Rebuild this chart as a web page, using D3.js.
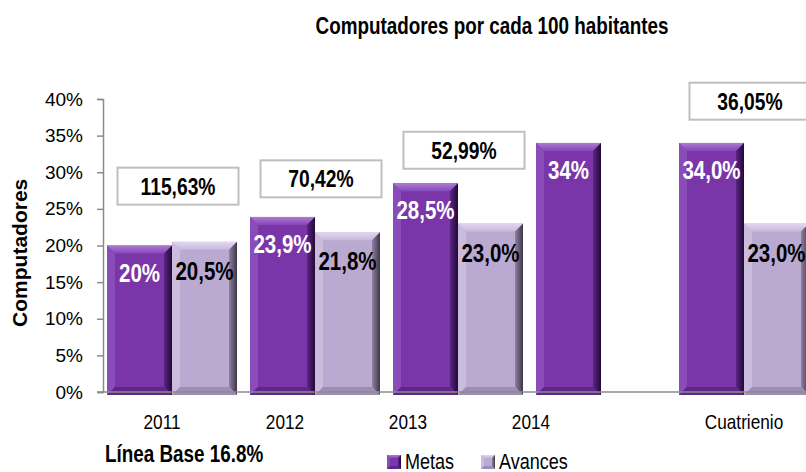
<!DOCTYPE html>
<html>
<head>
<meta charset="utf-8">
<script src="https://cdn.jsdelivr.net/npm/d3@7"></script>
<style>
  body { margin: 0; background: #fff; }
  svg { display: block; }
  text { font-family: "Liberation Sans", Arial, sans-serif; }
</style>
</head>
<body>
<script>
// data
var categories = ["2011", "2012", "2013", "2014", "Cuatrienio"];
var metas = [20, 23.9, 28.5, 34, 34.0];
var avances = [20.5, 21.8, 23.0, null, 23.0];
var metasLabels = ["20%", "23,9%", "28,5%", "34%", "34,0%"];
var avancesLabels = ["20,5%", "21,8%", "23,0%", null, "23,0%"];
var cumplimiento = ["115,63%", "70,42%", "52,99%", null, "36,05%"];
// height of the compliance boxes, read in axis units
var cumplimientoLevel = [28.1, 29.1, 33.0, null, 39.7];
var yTicks = [0, 5, 10, 15, 20, 25, 30, 35, 40];
var years = ["2011", "2012", "2013", "2014"];

var width = 806, height = 472;

var svg = d3.select("body").append("svg")
  .attr("width", width)
  .attr("height", height);

// narrow text (no Arial Narrow here, so squeeze Liberation Sans)
function narrow(g, x, y, str, size, bold, anchor) {
  return g.append("text")
    .attr("transform", "translate(" + x + "," + y + ")scale(0.82,1)")
    .attr("text-anchor", anchor || "middle")
    .style("font-size", size + "px")
    .style("font-weight", bold ? "bold" : "normal")
    .text(str);
}

// scales
var x = d3.scaleBand().domain(categories).range([100.5, 815.5]);
var y = d3.scaleLinear().domain([0, 40]).range([392, 99]);
var barW = 65;
var bev = 8;

// title
narrow(svg, 492, 34, "Computadores por cada 100 habitantes", 23, true);

// y axis
var yAxis = d3.axisLeft(y)
  .tickValues(yTicks)
  .tickFormat(function(d) { return d + "%"; })
  .tickSize(6)
  .tickPadding(14);

var gy = svg.append("g")
  .attr("transform", "translate(103,0)")
  .call(yAxis);
gy.select(".domain").attr("stroke", "#8c8c8c").attr("stroke-width", 1.5);
gy.selectAll(".tick line").attr("stroke", "#8c8c8c").attr("stroke-width", 1.5);
gy.selectAll(".tick text")
  .style("font-family", "'Liberation Sans', Arial, sans-serif")
  .style("font-size", "19px")
  .attr("fill", "#000");

// y axis title
svg.append("text")
  .attr("transform", "translate(27," + y(19) + ")rotate(-90)")
  .attr("text-anchor", "middle")
  .style("font-size", "21px")
  .style("font-weight", "bold")
  .text("Computadores");

// gradients for the bevelled bars
var defs = svg.append("defs");
function grad(id, c1, c2, horizontal) {
  var g = defs.append("linearGradient").attr("id", id);
  if (horizontal) g.attr("x1", 0).attr("y1", 0).attr("x2", 1).attr("y2", 0);
  else g.attr("x1", 0).attr("y1", 0).attr("x2", 0).attr("y2", 1);
  g.append("stop").attr("offset", "0%").attr("stop-color", c1);
  g.append("stop").attr("offset", "100%").attr("stop-color", c2);
}
grad("mRight", "#5b2486", "#220a35", true);
grad("aRight", "#8f82a3", "#3e3646", true);
grad("mTop", "#aa7dd3", "#8746b8", false);
grad("aTop", "#e1d8ee", "#c6b8dc", false);

var styles = {
  m: {main: "#7a36a8", top: "url(#mTop)", left: "#8a4cb8", right: "url(#mRight)", bottom: "#5e2787"},
  a: {main: "#baaad1", top: "url(#aTop)", left: "#c9bcdc", right: "url(#aRight)", bottom: "#9d8db6"}
};

function bevelBar(g, x0, y0, w, y1, s, bb) {
  var x1 = x0 + w;
  var b = Math.min(bb, (y1 - y0) / 2);
  g.append("rect").attr("x", x0).attr("y", y0).attr("width", w).attr("height", y1 - y0).attr("fill", s.main);
  g.append("polygon").attr("fill", s.top)
    .attr("points", [[x0, y0], [x1, y0], [x1 - b, y0 + b], [x0 + b, y0 + b]].join(" "));
  g.append("polygon").attr("fill", s.left)
    .attr("points", [[x0, y0], [x0 + b, y0 + b], [x0 + b, y1 - b], [x0, y1]].join(" "));
  g.append("polygon").attr("fill", s.right)
    .attr("points", [[x1, y0], [x1, y1], [x1 - b, y1 - b], [x1 - b, y0 + b]].join(" "));
  g.append("polygon").attr("fill", s.bottom)
    .attr("points", [[x0, y1], [x0 + b, y1 - b], [x1 - b, y1 - b], [x1, y1]].join(" "));
}

function center(c) { return x(c) + x.bandwidth() / 2; }

var bars = svg.append("g").attr("class", "bars");
categories.forEach(function(c, i) {
  var cx = center(c);
  bevelBar(bars, cx - barW, y(metas[i]), barW, y(0) + 3, styles.m, bev);
  if (avances[i] != null) {
    bevelBar(bars, cx, y(avances[i]), barW, y(0) + 3, styles.a, bev);
  }
});

// x axis baseline
svg.append("line")
  .attr("x1", 97).attr("x2", width)
  .attr("y1", y(0)).attr("y2", y(0))
  .attr("stroke", "#8c8c8c")
  .attr("stroke-width", 1.5);

// bar value labels
var labels = svg.append("g");
categories.forEach(function(c, i) {
  var cx = center(c);
  narrow(labels, cx - barW / 2, y(metas[i]) + 36, metasLabels[i], 25, true)
    .attr("fill", "#fff");
  if (avances[i] != null) {
    narrow(labels, cx + barW / 2, y(avances[i]) + 38, avancesLabels[i], 25, true)
      .attr("fill", "#000");
  }
});

// compliance boxes
var boxes = svg.append("g");
categories.forEach(function(c, i) {
  if (cumplimiento[i] == null) return;
  var cx = center(c) + 6;
  var cy = y(cumplimientoLevel[i]);
  boxes.append("rect")
    .attr("x", cx - 60.5).attr("y", cy - 18.5)
    .attr("width", 121).attr("height", 37)
    .attr("fill", "#fff")
    .attr("stroke", "#bfbfbf")
    .attr("stroke-width", 2);
  narrow(boxes, cx, cy + 8.5, cumplimiento[i], 23.5, true);
});

// category labels (the year labels sit left of their bars in the original)
var yearX = d3.scalePoint().domain(years).range([162, 531]);
var xl = svg.append("g");
categories.forEach(function(c) {
  narrow(xl, years.indexOf(c) >= 0 ? yearX(c) : center(c), 429, c, 21, false);
});

// baseline note
narrow(svg, 105, 462, "Línea Base 16.8%", 23, true, "start");

// legend
var legend = svg.append("g").attr("transform", "translate(387,455)");
var legendItems = [{name: "Metas", s: styles.m, dx: 0}, {name: "Avances", s: styles.a, dx: 94}];
legendItems.forEach(function(d) {
  var g = legend.append("g");
  bevelBar(g, d.dx, 0, 14, 14, d.s, 3);
  narrow(g, d.dx + 18, 14, d.name, 22, false, "start");
});
</script>
</body>
</html>
